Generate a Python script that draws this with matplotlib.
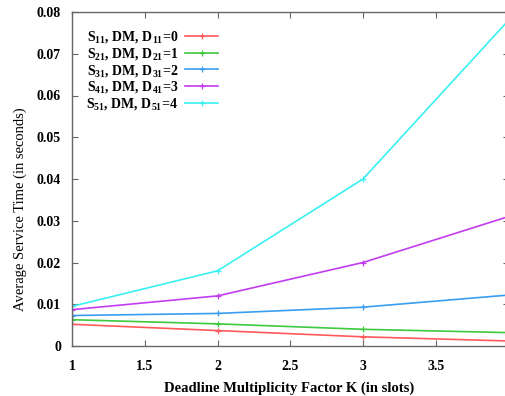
import matplotlib
matplotlib.use("Agg")
import matplotlib.pyplot as plt

# service time vs deadline multiplicity factor, one series per stream
k_values = [1, 2, 3, 4]
s11 = [0.0052, 0.0037, 0.0022, 0.0012]
s21 = [0.0063, 0.0053, 0.0040, 0.0032]
s31 = [0.0073, 0.0078, 0.0093, 0.0122]
s41 = [0.0087, 0.0120, 0.0200, 0.0310]
s51 = [0.0095, 0.0180, 0.0400, 0.0780]

series_labels = [
    r"S$_{11}$, DM, D$_{11}$=0",
    r"S$_{21}$, DM, D$_{21}$=1",
    r"S$_{31}$, DM, D$_{31}$=2",
    r"S$_{41}$, DM, D$_{41}$=3",
    r"S$_{51}$, DM, D$_{51}$=4",
]
series_colors = ["#ff5a5a", "#3ec83e", "#3a9ef0", "#c23cf0", "#3af0f0"]

# the x=4 end sits right on the figure edge, so it gets no label
x_ticks = [1, 1.5, 2, 2.5, 3, 3.5, 4]
x_tick_labels = ["1", "1.5", "2", "2.5", "3", "3.5", ""]
y_ticks = [0, 0.01, 0.02, 0.03, 0.04, 0.05, 0.06, 0.07, 0.08]
y_tick_labels = ["0", "0.01", "0.02", "0.03", "0.04", "0.05", "0.06", "0.07", "0.08"]

plt.rcParams["font.family"] = ["Liberation Serif", "DejaVu Serif"]
plt.rcParams["mathtext.default"] = "regular"

fig = plt.figure(figsize=(5.05, 3.96), dpi=100)
ax = fig.add_axes([72 / 505, 50 / 396, 436.5 / 505, 334 / 396])

for vals, lab, col in zip([s11, s21, s31, s41, s51], series_labels, series_colors):
    ax.plot(k_values, vals, color=col, lw=1.2, marker="+", ms=5, mew=0.9, label=lab)

ax.set_xlim(1, 4)
ax.set_ylim(0, 0.08)
ax.set_xticks(x_ticks)
ax.set_xticklabels(x_tick_labels, fontweight="bold", fontsize=10)
ax.set_yticks(y_ticks)
ax.set_yticklabels(y_tick_labels, fontweight="bold", fontsize=10)
ax.tick_params(axis="x", pad=10)
ax.tick_params(axis="y", pad=8)
ax.tick_params(direction="in", length=4, width=0.8, color="#666666",
               top=True, right=True)
for sp in ax.spines.values():
    sp.set_color("#666666")
    sp.set_linewidth(1.0)

ax.set_xlabel("Deadline Multiplicity Factor K (in slots)", fontsize=10.5,
              fontweight="bold")
ax.xaxis.set_label_coords(0.497, -0.105)
ax.set_ylabel("Average Service Time (in seconds)", fontsize=10.5)
ax.yaxis.set_label_coords(-0.103, 0.41)

leg = ax.legend(loc="upper left", bbox_to_anchor=(0.02, 0.965), frameon=False,
                markerfirst=False, handlelength=2.4, labelspacing=0.05,
                handletextpad=0.5, borderaxespad=0,
                prop={"weight": "bold", "size": 10})

fig.savefig("out.png", dpi=100)
